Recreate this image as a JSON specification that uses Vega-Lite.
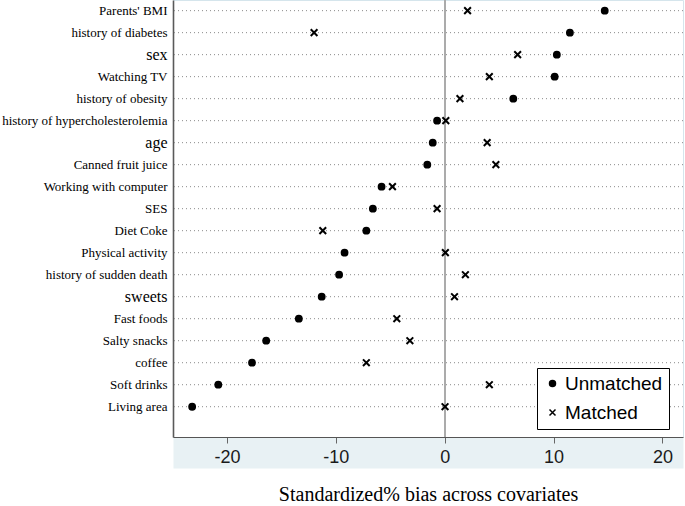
{
  "$schema": "https://vega.github.io/schema/vega-lite/v6.json",
  "autosize": "none",
  "width": 510,
  "height": 437,
  "padding": {"left": 173, "top": 0, "right": 2, "bottom": 69},
  "background": "white",
  "view": {"stroke": "#d5e5ec", "strokeWidth": 1},
  "data": {"values": [
    {"covariate": "Parents' BMI", "group": "Unmatched", "bias": 14.7},
    {"covariate": "Parents' BMI", "group": "Matched", "bias": 2.1},
    {"covariate": "history of diabetes", "group": "Unmatched", "bias": 11.5},
    {"covariate": "history of diabetes", "group": "Matched", "bias": -12.0},
    {"covariate": "sex", "group": "Unmatched", "bias": 10.3},
    {"covariate": "sex", "group": "Matched", "bias": 6.7},
    {"covariate": "Watching TV", "group": "Unmatched", "bias": 10.1},
    {"covariate": "Watching TV", "group": "Matched", "bias": 4.1},
    {"covariate": "history of obesity", "group": "Unmatched", "bias": 6.3},
    {"covariate": "history of obesity", "group": "Matched", "bias": 1.4},
    {"covariate": "history of hypercholesterolemia", "group": "Unmatched", "bias": -0.7},
    {"covariate": "history of hypercholesterolemia", "group": "Matched", "bias": 0.1},
    {"covariate": "age", "group": "Unmatched", "bias": -1.1},
    {"covariate": "age", "group": "Matched", "bias": 3.9},
    {"covariate": "Canned fruit juice", "group": "Unmatched", "bias": -1.6},
    {"covariate": "Canned fruit juice", "group": "Matched", "bias": 4.7},
    {"covariate": "Working with  computer", "group": "Unmatched", "bias": -5.8},
    {"covariate": "Working with  computer", "group": "Matched", "bias": -4.8},
    {"covariate": "SES", "group": "Unmatched", "bias": -6.6},
    {"covariate": "SES", "group": "Matched", "bias": -0.7},
    {"covariate": "Diet Coke", "group": "Unmatched", "bias": -7.2},
    {"covariate": "Diet Coke", "group": "Matched", "bias": -11.2},
    {"covariate": "Physical activity", "group": "Unmatched", "bias": -9.2},
    {"covariate": "Physical activity", "group": "Matched", "bias": 0.06},
    {"covariate": "history of  sudden death", "group": "Unmatched", "bias": -9.7},
    {"covariate": "history of  sudden death", "group": "Matched", "bias": 1.9},
    {"covariate": "sweets", "group": "Unmatched", "bias": -11.3},
    {"covariate": "sweets", "group": "Matched", "bias": 0.9},
    {"covariate": "Fast foods", "group": "Unmatched", "bias": -13.4},
    {"covariate": "Fast foods", "group": "Matched", "bias": -4.4},
    {"covariate": "Salty snacks", "group": "Unmatched", "bias": -16.4},
    {"covariate": "Salty snacks", "group": "Matched", "bias": -3.2},
    {"covariate": "coffee", "group": "Unmatched", "bias": -17.7},
    {"covariate": "coffee", "group": "Matched", "bias": -7.2},
    {"covariate": "Soft drinks", "group": "Unmatched", "bias": -20.8},
    {"covariate": "Soft drinks", "group": "Matched", "bias": 4.1},
    {"covariate": "Living area", "group": "Unmatched", "bias": -23.2},
    {"covariate": "Living area", "group": "Matched", "bias": 0.03}
  ]},
  "resolve": {"axis": {"x": "independent"}},
  "layer": [
    {
      "transform": [{"filter": "datum.group === 'Unmatched'"}],
      "mark": {"type": "rule", "color": "#8a8a8a", "strokeWidth": 1, "strokeDash": [1, 3]},
      "encoding": {
        "y": {
          "field": "covariate", "type": "nominal",
          "scale": {"type": "point", "padding": 0.93, "align": 0.26,
            "domain": ["Parents' BMI", "history of diabetes", "sex", "Watching TV", "history of obesity", "history of hypercholesterolemia", "age", "Canned fruit juice", "Working with  computer", "SES", "Diet Coke", "Physical activity", "history of  sudden death", "sweets", "Fast foods", "Salty snacks", "coffee", "Soft drinks", "Living area"]},
          "axis": {
            "title": null, "ticks": false, "grid": false,
            "domainColor": "#5a5a5a", "domainWidth": 1.6,
            "labelFont": "Liberation Serif", "labelColor": "black",
            "labelFontSize": {"condition": {"test": "indexof(['sex','age','sweets'], datum.value) >= 0", "value": 16}, "value": 13},
            "labelPadding": 6, "labelLimit": 300
          }
        }
      }
    },
    {
      "mark": {"type": "rule", "color": "#ababab", "strokeWidth": 1.2},
      "encoding": {
        "x": {
          "datum": 0, "type": "quantitative",
          "scale": {"domain": [-24.96, 21.89], "nice": false, "zero": false},
          "axis": {"orient": "bottom", "title": null, "ticks": false, "labels": false, "grid": false,
            "domainColor": "#e8f1f4", "domainWidth": 31, "domainCap": "butt", "offset": 15.5, "zindex": 0}
        }
      }
    },
    {
      "mark": {"type": "point", "filled": true, "fill": "black", "stroke": "black", "strokeWidth": 2, "opacity": 1},
      "encoding": {
        "x": {
          "field": "bias", "type": "quantitative",
          "scale": {"domain": [-24.96, 21.89], "nice": false, "zero": false},
          "axis": {
            "orient": "bottom",
            "title": "Standardized% bias across covariates",
            "titleFont": "Liberation Serif", "titleFontSize": 20, "titleFontWeight": "normal", "titleColor": "black", "titlePadding": 18,
            "values": [-20, -10, 0, 10, 20], "grid": false,
            "labelExpr": "'' + datum.value",
            "tickColor": "#666", "tickSize": 6, "domainColor": "#555", "domainWidth": 1,
            "labelFont": "Liberation Sans", "labelFontSize": 18, "labelColor": "#1a1a1a", "labelPadding": 5,
            "zindex": 1
          }
        },
        "y": {
          "field": "covariate", "type": "nominal",
          "scale": {"type": "point", "padding": 0.93, "align": 0.26,
            "domain": ["Parents' BMI", "history of diabetes", "sex", "Watching TV", "history of obesity", "history of hypercholesterolemia", "age", "Canned fruit juice", "Working with  computer", "SES", "Diet Coke", "Physical activity", "history of  sudden death", "sweets", "Fast foods", "Salty snacks", "coffee", "Soft drinks", "Living area"]},
          "axis": {
            "title": null, "ticks": false, "grid": false,
            "domainColor": "#5a5a5a", "domainWidth": 1.6,
            "labelFont": "Liberation Serif", "labelColor": "black",
            "labelFontSize": {"condition": {"test": "indexof(['sex','age','sweets'], datum.value) >= 0", "value": 16}, "value": 13},
            "labelPadding": 6, "labelLimit": 300
          }
        },
        "shape": {
          "field": "group", "type": "nominal",
          "scale": {"domain": ["Unmatched", "Matched"], "range": ["circle", "M-1,-1L1,1M-1,1L1,-1"]},
          "legend": {
            "title": null, "orient": "none", "legendX": 364, "legendY": 368,
            "strokeColor": "black", "fillColor": "white", "padding": 6,
            "labelFont": "Liberation Sans", "labelFontSize": 19, "labelColor": "black",
            "labelOffset": 3, "rowPadding": 9, "symbolSize": 36,
            "encode": {"symbols": {"update": {"fill": {"value": "black"}, "stroke": {"value": "black"}, "strokeWidth": {"value": 2}, "opacity": {"value": 1}}}}
          }
        },
        "size": {"condition": {"test": "datum.group === 'Unmatched'", "value": 34}, "value": 45}
      }
    }
  ]
}
